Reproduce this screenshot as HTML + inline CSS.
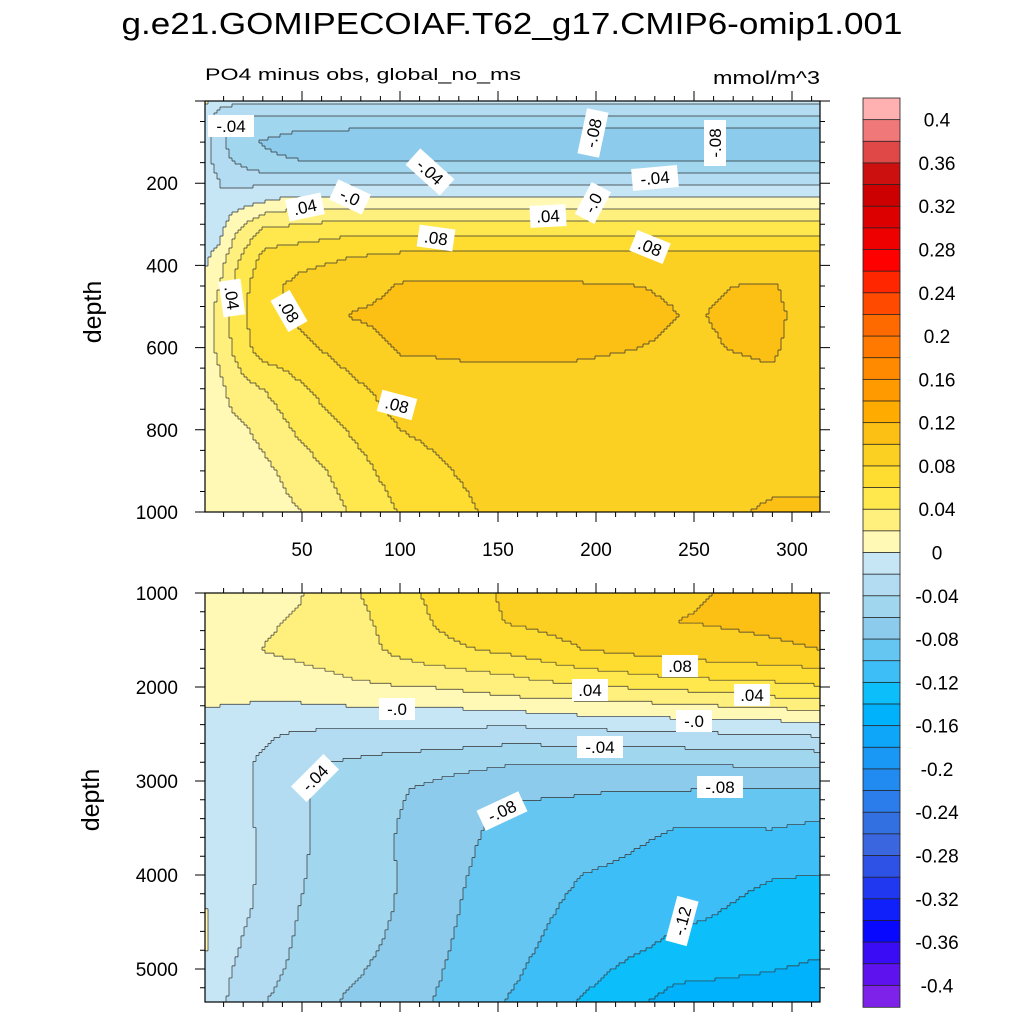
<!DOCTYPE html>
<html><head><meta charset="utf-8"><style>
html,body{margin:0;padding:0;background:#fff}
svg{display:block;font-family:"Liberation Sans",sans-serif}
</style></head><body>
<svg id="chart" width="1024" height="1024" viewBox="0 0 1024 1024" xmlns="http://www.w3.org/2000/svg">
<rect width="1024" height="1024" fill="#fff"/>
<text x="512" y="34" font-size="31" text-anchor="middle" textLength="781" lengthAdjust="spacingAndGlyphs">g.e21.GOMIPECOIAF.T62_g17.CMIP6-omip1.001</text>
<text x="205" y="80" font-size="17" textLength="316" lengthAdjust="spacingAndGlyphs">PO4 minus obs, global_no_ms</text>
<text x="820" y="84" font-size="18" text-anchor="end" textLength="107" lengthAdjust="spacingAndGlyphs">mmol/m^3</text>
<text transform="translate(101,312) rotate(-90)" font-size="25" text-anchor="middle">depth</text>
<text transform="translate(99,800) rotate(-90)" font-size="25" text-anchor="middle">depth</text>
<g id="topPanel"></g>
<g id="botPanel"></g>
<g id="colorbar"></g>
<g id="labels"></g>
</svg>
<script>
// ---- data ----
const posColors = ['#fff9b5','#fff07e','#ffe84e','#ffdd30','#fcd023','#fcbf14','#ffab00','#ff9a00','#ff8a00','#ff7800','#ff6a00','#ff4a00','#ff2600','#ff0000','#ee0000','#dd0000','#cc0000','#cc1010','#e04848','#f07878','#ffb0b0'];
const negColors = ['#c6e5f5','#b3dcf2','#a0d6ee','#8ccbeb','#66c6f2','#3ebef6','#0cbefa','#00b2fb','#0ea6f8','#1a98f6','#228bf2','#2a7deb','#3270e2','#3a66df','#2f52e6','#2038f0','#1020fa','#0808ff','#3a0cf6','#5e12ee','#7e22ea'];
const cbLabels = ['0.4','0.36','0.32','0.28','0.24','0.2','0.16','0.12','0.08','0.04','0','-0.04','-0.08','-0.12','-0.16','-0.2','-0.24','-0.28','-0.32','-0.36','-0.4'];

const topX = [0, 8, 16, 30, 50, 75, 100, 140, 180, 250, 290, 300, 314];
const topDepth = [0,20,50,100,140,165,190,215,245,275,310,345,380,450,520,600,700,800,900,1000];
const topCols = [
 [0.005,-0.01,-0.01,-0.012,-0.012,-0.012,-0.012,-0.012,-0.012,-0.012,-0.012,-0.01,-0.005,0.005,0.01,0.01,0.01,0.01,0.01,0.01],
 [-0.01,-0.02,-0.03,-0.035,-0.03,-0.025,-0.02,-0.02,-0.015,-0.01,-0.005,0.0,0.01,0.02,0.028,0.025,0.015,0.01,0.01,0.01],
 [-0.01,-0.03,-0.045,-0.05,-0.045,-0.035,-0.025,-0.02,-0.01,0.002,0.015,0.025,0.035,0.045,0.05,0.045,0.03,0.015,0.01,0.01],
 [-0.01,-0.03,-0.045,-0.062,-0.055,-0.045,-0.03,-0.015,0.0,0.02,0.04,0.055,0.065,0.075,0.075,0.07,0.04,0.025,0.015,0.01],
 [-0.01,-0.03,-0.05,-0.072,-0.062,-0.05,-0.03,-0.01,0.01,0.03,0.045,0.06,0.075,0.085,0.085,0.075,0.058,0.045,0.03,0.02],
 [-0.01,-0.03,-0.05,-0.076,-0.065,-0.05,-0.03,-0.01,0.01,0.03,0.05,0.068,0.08,0.09,0.101,0.09,0.075,0.062,0.05,0.042],
 [-0.01,-0.03,-0.05,-0.078,-0.065,-0.05,-0.03,-0.01,0.01,0.03,0.05,0.07,0.085,0.102,0.106,0.102,0.09,0.08,0.07,0.061],
 [-0.01,-0.03,-0.05,-0.078,-0.065,-0.05,-0.03,-0.01,0.01,0.03,0.05,0.07,0.085,0.103,0.107,0.103,0.095,0.09,0.085,0.08],
 [-0.01,-0.03,-0.05,-0.079,-0.065,-0.05,-0.03,-0.01,0.01,0.03,0.05,0.07,0.085,0.103,0.108,0.103,0.095,0.092,0.091,0.09],
 [-0.01,-0.03,-0.05,-0.079,-0.065,-0.05,-0.03,-0.01,0.01,0.03,0.05,0.07,0.085,0.098,0.099,0.098,0.095,0.092,0.091,0.09],
 [-0.01,-0.03,-0.05,-0.079,-0.065,-0.05,-0.03,-0.01,0.01,0.03,0.05,0.07,0.085,0.102,0.105,0.103,0.095,0.092,0.092,0.104],
 [-0.01,-0.03,-0.05,-0.079,-0.065,-0.05,-0.03,-0.01,0.01,0.03,0.05,0.07,0.085,0.095,0.098,0.096,0.094,0.092,0.092,0.104],
 [-0.01,-0.03,-0.05,-0.079,-0.065,-0.05,-0.03,-0.01,0.01,0.03,0.05,0.07,0.085,0.095,0.096,0.095,0.094,0.092,0.092,0.104]
];

const botX = [0, 5, 24, 48, 73, 99, 121, 157, 193, 241, 289, 314];
const botDepth = [1000,1300,1600,1900,2100,2300,2500,2800,3100,3400,3700,4000,4400,4800,5100,5350];
const botCols = [
 [0.01,0.01,0.01,0.01,0.008,-0.005,-0.005,-0.005,-0.005,-0.005,-0.005,-0.004,0.004,0.004,-0.005,-0.005],
 [0.01,0.01,0.01,0.01,0.006,-0.005,-0.01,-0.01,-0.01,-0.01,-0.01,-0.01,-0.01,-0.01,-0.012,-0.012],
 [0.012,0.016,0.019,0.012,0.005,-0.01,-0.015,-0.019,-0.019,-0.019,-0.018,-0.018,-0.02,-0.025,-0.03,-0.035],
 [0.018,0.022,0.024,0.015,0.005,-0.01,-0.022,-0.035,-0.037,-0.037,-0.037,-0.038,-0.04,-0.043,-0.046,-0.05],
 [0.035,0.03,0.028,0.02,0.008,-0.008,-0.025,-0.042,-0.048,-0.05,-0.05,-0.05,-0.052,-0.055,-0.058,-0.062],
 [0.055,0.05,0.045,0.027,0.01,-0.01,-0.025,-0.048,-0.058,-0.06,-0.061,-0.06,-0.061,-0.063,-0.066,-0.07],
 [0.065,0.063,0.055,0.03,0.012,-0.008,-0.025,-0.052,-0.066,-0.07,-0.072,-0.074,-0.076,-0.078,-0.08,-0.083],
 [0.085,0.082,0.065,0.038,0.02,-0.006,-0.03,-0.058,-0.077,-0.085,-0.088,-0.09,-0.092,-0.095,-0.098,-0.102],
 [0.09,0.09,0.08,0.05,0.025,0.0,-0.027,-0.058,-0.079,-0.085,-0.092,-0.1,-0.105,-0.11,-0.115,-0.122],
 [0.097,0.1,0.09,0.06,0.03,0.004,-0.023,-0.058,-0.08,-0.098,-0.105,-0.11,-0.115,-0.125,-0.138,-0.148],
 [0.105,0.104,0.097,0.065,0.04,0.007,-0.02,-0.056,-0.082,-0.097,-0.105,-0.119,-0.126,-0.134,-0.142,-0.148],
 [0.11,0.106,0.1,0.07,0.045,0.012,-0.017,-0.055,-0.083,-0.099,-0.11,-0.12,-0.13,-0.138,-0.145,-0.15]
];

// ---- helpers ----
const NS='http://www.w3.org/2000/svg';
function mk(tag, attrs, parent){const e=document.createElementNS(NS,tag);for(const k in attrs)e.setAttribute(k,attrs[k]);parent.appendChild(e);return e;}
function lin(d0,d1,r0,r1){return v=>r0+(v-d0)/(d1-d0)*(r1-r0);}
function inv(d0,d1,r0,r1){return p=>d0+(p-r0)/(r1-r0)*(d1-d0);}
function seg(arr,v){let i=0;while(i<arr.length-2&&v>arr[i+1])i++;let t=(v-arr[i])/(arr[i+1]-arr[i]);t=Math.max(0,Math.min(1,t));return [i,t];}
function sample(xs,ds,cols,x,d){const [i,tx]=seg(xs,x);const [j,ty]=seg(ds,d);
 const a=cols[i][j],b=cols[i+1][j],c=cols[i][j+1],e=cols[i+1][j+1];
 return (a*(1-tx)+b*tx)*(1-ty)+(c*(1-tx)+e*tx)*ty;}
function levelOf(v){return v>=0?Math.min(20,Math.floor(v/0.02+1e-9)):-1-Math.min(20,Math.floor(-v/0.02));}
function colorOf(l){return l>=0?posColors[l]:negColors[-1-l];}

function drawPanel(g, xs, ds, cols, L, R, T, B, dmin, dmax, xmax, opts){
 const xScale=lin(0,xmax,204,204+1.96*xmax);
 const dScale=lin(dmin,dmax,T,B);
 const xInv=inv(0,xmax,204,204+1.96*xmax);
 const dInv=inv(dmin,dmax,T,B);
 const nx=Math.round((R-L)/3), ny=Math.round((B-T)/3);
 const cw=(R-L)/nx, ch=(B-T)/ny;
 const lev=[];
 for(let i=0;i<nx;i++){lev.push([]);for(let j=0;j<ny;j++){
   const x=xInv(L+(i+0.5)*cw), d=dInv(T+(j+0.5)*ch);
   lev[i].push(levelOf(sample(xs,ds,cols,x,d)));}}
 const paths={};
 for(let i=0;i<nx;i++)for(let j=0;j<ny;j++){const l=lev[i][j];
   (paths[l]=paths[l]||[]).push('M'+(L+i*cw).toFixed(2)+' '+(T+j*ch).toFixed(2)+'h'+(cw+0.4).toFixed(2)+'v'+(ch+0.4).toFixed(2)+'h'+(-(cw+0.4)).toFixed(2)+'z');}
 const fg=mk('g',{},g);
 
 
 for(const l in paths){const p=mk('path',{d:paths[l].join(''),fill:colorOf(+l)},fg);
   
   }
 let ld='';
 for(let i=0;i<nx;i++)for(let j=0;j<ny;j++){
   if(i<nx-1&&lev[i][j]!==lev[i+1][j]) ld+='M'+(L+(i+1)*cw).toFixed(2)+' '+(T+j*ch).toFixed(2)+'v'+ch.toFixed(2);
   if(j<ny-1&&lev[i][j]!==lev[i][j+1]) ld+='M'+(L+i*cw).toFixed(2)+' '+(T+(j+1)*ch).toFixed(2)+'h'+cw.toFixed(2);}
 const cl=mk('path',{d:ld,stroke:'#333',"stroke-width":0.7,fill:'none'},g);
 
 
 const fr=mk('rect',{x:L,y:T,width:R-L,height:B-T,fill:'none',stroke:'#000',"stroke-width":1.2},g);
 
 
 let td='';
 for(let v=0;v<=xmax;v+=10){const px=xScale(v);if(px<L-0.5||px>R+0.5)continue;const len=(v%50===0)?10:5;td+='M'+px+' '+B+'v'+len+'M'+px+' '+T+'v'+(-len);}
 for(let v=opts.minorStart;v<=dmax;v+=opts.minor){const py=dScale(v);if(py<T-0.5||py>B+0.5)continue;const len=(v%opts.major===0)?10:5;td+='M'+L+' '+py+'h'+(-len)+'M'+R+' '+py+'h'+len;}
 const tk=mk('path',{d:td,stroke:'#000',"stroke-width":1,fill:'none'},g);
 
 
 for(const v of opts.yLabels){const t=mk('text',{x:178,y:dScale(v)+7,"font-size":19,"text-anchor":"end"},g);t.textContent=v;
   
   }
 if(opts.xLabels){for(const v of opts.xLabels){const t=mk('text',{x:xScale(v),y:B+44,"font-size":19,"text-anchor":"middle"},g);t.textContent=v;
   
   }}
}

drawPanel(document.getElementById('topPanel'),topX,topDepth,topCols,205,820,101,512,0,1000,314.3,
 {minor:50,major:200,minorStart:0,yLabels:[200,400,600,800,1000],xLabels:[50,100,150,200,250,300]});
drawPanel(document.getElementById('botPanel'),botX,botDepth,botCols,205,820,593,1002,1000,5351,314.3,
 {minor:200,major:1000,minorStart:1000,yLabels:[1000,2000,3000,4000,5000]});

(function(){
 const cb=document.getElementById('colorbar');
 const top=98,bot=1007,n=42,h=(bot-top)/n;
 for(let k=0;k<n;k++){
   const l=k<21?20-k:-1-(k-21);
   const r=mk('rect',{x:863,y:top+k*h,width:37,height:h+0.3,fill:colorOf(l),stroke:'#222',"stroke-width":0.8},cb);
   
   
 }
 cbLabels.forEach((s,i)=>{const t=mk('text',{x:937,y:top+(2*i+1)*h+7,"font-size":19,"text-anchor":"middle"},cb);t.textContent=s;
   
   });
})();

const labelText=['-.04','.04','-.0','-.04','.08','.04','-.0','-.08','.08','-.04','-.08','.04','.08','.08',
 '.08','.04','.04','-.0','-.0','-.04','-.04','-.08','-.08','-.12'];
const labelPos=[[231,126,0],[305,207,-12],[350,197,25],[430,172,42],[436,238,8],[548,216,-3],[593,203,-62],[593,133,-78],[650,247,22],[655,178,-5],[715,143,-90],[232,298,82],[289,311,60],[397,405,15],
 [680,666,0],[590,690,0],[752,695,0],[397,709,0],[694,721,0],[600,747,0],[315,778,-45],[720,787,0],[502,811,-25],[682,921,-75]];
(function(){
 const g=document.getElementById('labels');
 labelText.forEach((s,i)=>{const [x,y,a]=labelPos[i];
   const w=s.length*10+6;
   const gg=mk('g',{transform:'translate('+x+','+y+') rotate('+a+')'},g);
   
   
   mk('rect',{x:-w/2,y:-11,width:w,height:22,fill:'#fff'},gg);
   const t=mk('text',{x:0,y:6,"font-size":17,"text-anchor":"middle"},gg);t.textContent=s;});
})();
</script>
</body></html>
